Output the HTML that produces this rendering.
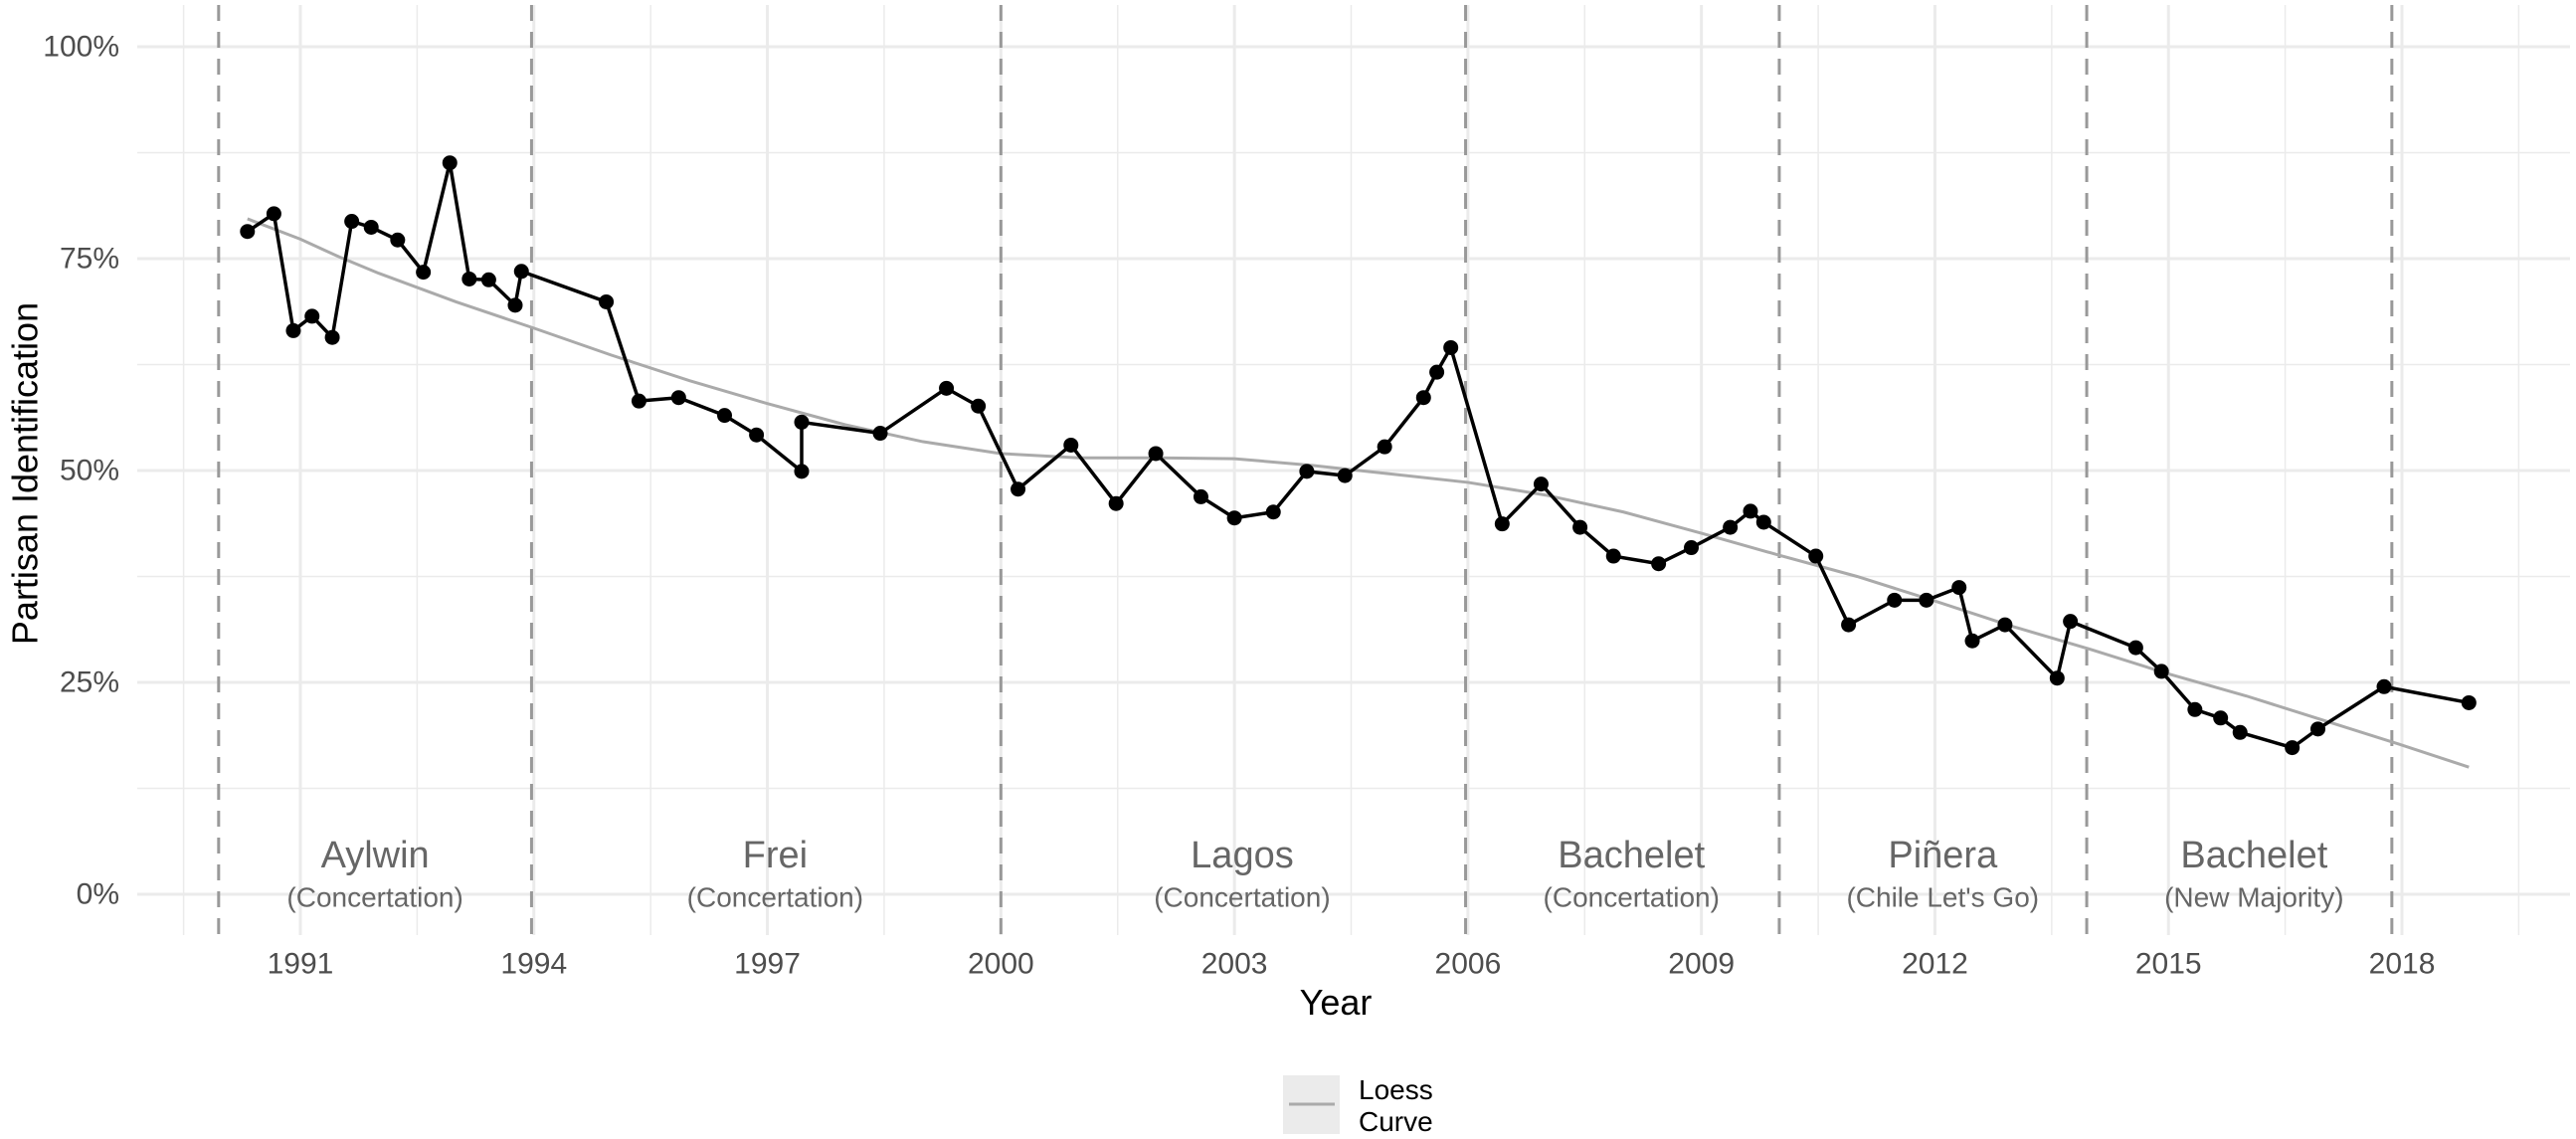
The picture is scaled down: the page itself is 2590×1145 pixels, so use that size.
<!DOCTYPE html>
<html><head><meta charset="utf-8"><style>
html,body{margin:0;padding:0;background:#fff;}
svg{display:block;font-family:"Liberation Sans",Arial,sans-serif;}
</style></head><body>
<svg id="chart" width="2590" height="1145" viewBox="0 0 2590 1145" xmlns="http://www.w3.org/2000/svg">
<g id="grid"></g>
<g id="regimes"></g>
<g id="loess"></g>
<g id="series"></g>
<g id="axes"></g>
<text x="25" y="476" transform="rotate(-90 25 476)" text-anchor="middle" dominant-baseline="central" font-size="36" fill="#000">Partisan Identification</text>
<text x="1343" y="1020" text-anchor="middle" font-size="36" fill="#000">Year</text>
<g>
<rect x="1290" y="1081" width="57" height="59" fill="#ebebeb"></rect>
<line x1="1296" y1="1110" x2="1342" y2="1110" stroke="#aaaaaa" stroke-width="3"></line>
<text x="1366" y="1105" font-size="28" fill="#000">Loess</text>
<text x="1366" y="1137" font-size="28" fill="#000">Curve</text>
</g>
</svg>
<script>
const years = [1990.32,1990.66,1990.91,1991.15,1991.41,1991.66,1991.91,1992.25,1992.58,1992.92,1993.17,1993.42,1993.76,1993.84,1994.93,1995.35,1995.86,1996.45,1996.86,1997.44,1997.44,1998.45,1999.30,1999.71,2000.22,2000.90,2001.48,2001.99,2002.57,2003.00,2003.50,2003.93,2004.42,2004.93,2005.43,2005.60,2005.78,2006.44,2006.94,2007.44,2007.87,2008.45,2008.87,2009.37,2009.63,2009.80,2010.47,2010.89,2011.48,2011.89,2012.31,2012.48,2012.90,2013.57,2013.74,2014.58,2014.91,2015.34,2015.67,2015.92,2016.59,2016.92,2017.77,2018.86];
const values = [78.2,80.3,66.5,68.2,65.7,79.4,78.7,77.2,73.4,86.3,72.6,72.5,69.5,73.5,69.9,58.2,58.6,56.5,54.2,49.9,55.7,54.4,59.7,57.6,47.8,53.0,46.1,52.0,46.9,44.4,45.1,49.9,49.4,52.8,58.6,61.6,64.5,43.7,48.4,43.3,39.9,39.0,40.9,43.3,45.2,43.9,39.9,31.8,34.7,34.7,36.2,29.9,31.8,25.5,32.2,29.1,26.3,21.8,20.8,19.1,17.3,19.5,24.5,22.6];
const loessYears = [1990.32,1991,1991.5,1992,1993,1994,1995,1996,1997,1998,1999,2000,2001,2002,2003,2004,2005,2006,2007,2008,2009,2010,2011,2012,2013,2014,2015,2016,2017,2018,2018.86];
const loessValues = [79.7,77.3,75.2,73.3,69.9,66.8,63.6,60.6,57.9,55.4,53.4,52.0,51.5,51.5,51.4,50.6,49.6,48.6,47.1,45.1,42.6,40.0,37.5,34.6,31.6,28.9,26.0,23.4,20.5,17.6,15.0];
const yTicks = [0,25,50,75,100];
const yTickLabels = ["0%","25%","50%","75%","100%"];
const yMinor = [12.5,37.5,62.5,87.5];
const xTicks = [1991,1994,1997,2000,2003,2006,2009,2012,2015,2018];
const xMinor = [1989.5,1992.5,1995.5,1998.5,2001.5,2004.5,2007.5,2010.5,2013.5,2016.5,2019.5];
const regimeBreaks = [1989.95,1993.97,2000.0,2005.97,2010.0,2013.95,2017.87];
const regimeNames = ["Aylwin","Frei","Lagos","Bachelet","Piñera","Bachelet"];
const regimeParties = ["(Concertation)","(Concertation)","(Concertation)","(Concertation)","(Chile Let's Go)","(New Majority)"];
const regimeLabelYears = [1991.96,1997.1,2003.1,2008.1,2012.1,2016.1];

const NS="http://www.w3.org/2000/svg";
const PL=138, PR=2584, PT=5, PB=940;
function xs(y){return 302+(y-1991)*78.26;}
function ys(v){return 899-v*8.52;}
function mk(tag,attrs,parent){const e=document.createElementNS(NS,tag);for(const k in attrs)e.setAttribute(k,attrs[k]);parent.appendChild(e);return e;}
const grid=document.getElementById('grid');
yMinor.forEach(v=>{const l=mk('line',{x1:PL,x2:PR,y1:ys(v),y2:ys(v),stroke:'#ebebeb','stroke-width':1.5},grid);

});
xMinor.forEach(v=>{const l=mk('line',{x1:xs(v),x2:xs(v),y1:PT,y2:PB,stroke:'#ebebeb','stroke-width':1.5},grid);

});
yTicks.forEach(v=>{const l=mk('line',{x1:PL,x2:PR,y1:ys(v),y2:ys(v),stroke:'#ebebeb','stroke-width':3},grid);

});
xTicks.forEach(v=>{const l=mk('line',{x1:xs(v),x2:xs(v),y1:PT,y2:PB,stroke:'#ebebeb','stroke-width':3},grid);

});
const axes=document.getElementById('axes');
yTicks.forEach((v,i)=>{const t=mk('text',{x:120,y:ys(v),'text-anchor':'end','dominant-baseline':'central','font-size':30,fill:'#4d4d4d'},axes);t.textContent=yTickLabels[i];

});
xTicks.forEach(v=>{const t=mk('text',{x:xs(v),y:969,'text-anchor':'middle','dominant-baseline':'central','font-size':30,fill:'#4d4d4d'},axes);t.textContent=String(v);

});
const reg=document.getElementById('regimes');
regimeBreaks.forEach(v=>{const l=mk('line',{x1:xs(v),x2:xs(v),y1:PT,y2:PB,stroke:'#999999','stroke-width':3,'stroke-dasharray':'16 11'},reg);

});
regimeNames.forEach((n,i)=>{const t=mk('text',{x:xs(regimeLabelYears[i]),y:860,'text-anchor':'middle','dominant-baseline':'central','font-size':38,fill:'#666666'},reg);t.textContent=n;


const p=mk('text',{x:xs(regimeLabelYears[i]),y:902,'text-anchor':'middle','dominant-baseline':'central','font-size':28,fill:'#666666'},reg);p.textContent=regimeParties[i];

});
const lo=document.getElementById('loess');
const lp=mk('polyline',{points:loessYears.map((y,i)=>xs(y)+','+ys(loessValues[i])).join(' '),fill:'none',stroke:'#aaaaaa','stroke-width':3},lo);


const se=document.getElementById('series');
const sl=mk('polyline',{points:years.map((y,i)=>xs(y)+','+ys(values[i])).join(' '),fill:'none',stroke:'#000','stroke-width':3.5,'stroke-linejoin':'round'},se);


years.forEach((y,i)=>{const c=mk('circle',{cx:xs(y),cy:ys(values[i]),r:7.5,fill:'#000'},se);

});
</script>
</body></html>
